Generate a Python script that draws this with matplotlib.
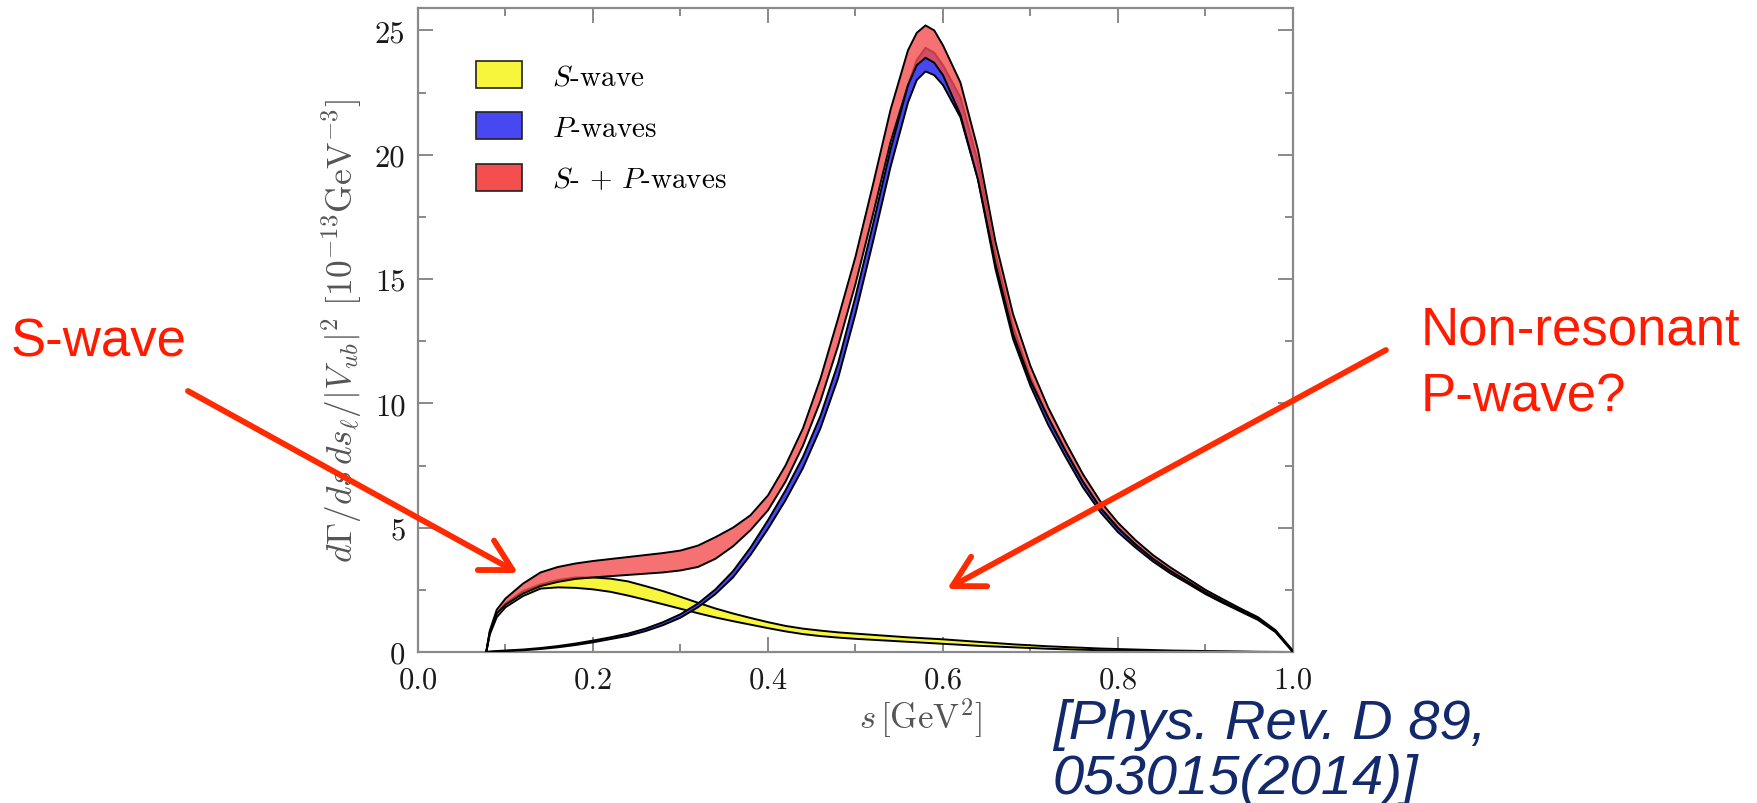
import matplotlib
matplotlib.use('Agg')
import matplotlib.pyplot as plt
from matplotlib.patches import Patch, FancyArrowPatch
from matplotlib.ticker import MultipleLocator

plt.rcParams['mathtext.fontset'] = 'cm'
plt.rcParams['font.family'] = ['cmr10', 'DejaVu Serif']
plt.rcParams['axes.formatter.use_mathtext'] = True
plt.rcParams['axes.unicode_minus'] = False

# s grid [GeV^2] and band edges
s = [0.078, 0.082, 0.09, 0.10, 0.12, 0.14, 0.16, 0.18, 0.20, 0.22, 0.24, 0.26,
     0.28, 0.30, 0.32, 0.34, 0.36, 0.38, 0.40, 0.42, 0.44, 0.46, 0.48, 0.50,
     0.52, 0.54, 0.56, 0.57, 0.58, 0.59, 0.60, 0.62, 0.64, 0.66, 0.68, 0.70,
     0.72, 0.74, 0.76, 0.78, 0.80, 0.82, 0.84, 0.86, 0.88, 0.90, 0.92, 0.94,
     0.96, 0.98, 1.00]

# S-wave (yellow)
s_hi = [0, 0.8, 1.55, 1.95, 2.45, 2.72, 2.9, 3.0, 3.0, 2.95, 2.84, 2.65,
        2.45, 2.22, 1.98, 1.75, 1.55, 1.37, 1.2, 1.05, 0.94, 0.86, 0.79, 0.74,
        0.69, 0.64, 0.59, 0.57, 0.55, 0.53, 0.51, 0.46, 0.41, 0.36, 0.31, 0.27,
        0.23, 0.2, 0.17, 0.14, 0.12, 0.1, 0.08, 0.06, 0.05, 0.04, 0.03, 0.02,
        0.01, 0.005, 0]
s_lo = [0, 0.7, 1.4, 1.8, 2.25, 2.55, 2.6, 2.58, 2.52, 2.42, 2.27, 2.1,
        1.92, 1.74, 1.56, 1.39, 1.24, 1.1, 0.96, 0.83, 0.72, 0.64, 0.58, 0.53,
        0.49, 0.45, 0.41, 0.39, 0.37, 0.35, 0.33, 0.29, 0.25, 0.22, 0.19, 0.16,
        0.13, 0.11, 0.09, 0.07, 0.06, 0.05, 0.04, 0.03, 0.02, 0.015, 0.01, 0.005,
        0, 0, 0]

# P-waves (blue)
p_hi = [0, 0.02, 0.04, 0.06, 0.1, 0.16, 0.24, 0.34, 0.46, 0.59, 0.74, 0.94,
        1.2, 1.52, 1.95, 2.52, 3.25, 4.2, 5.3, 6.5, 7.85, 9.5, 11.6, 14.3,
        17.2, 20.2, 22.8, 23.8, 24.3, 24.1, 23.6, 22.3, 19.7, 16.0, 13.1, 11.05,
        9.45, 8.1, 6.85, 5.8, 4.98, 4.33, 3.76, 3.27, 2.84, 2.41, 2.04, 1.69,
        1.34, 0.84, 0.03]
p_lo = [0, 0, 0.02, 0.04, 0.07, 0.12, 0.19, 0.28, 0.39, 0.52, 0.65, 0.84,
        1.08, 1.38, 1.8, 2.33, 3.0, 3.9, 4.95, 6.1, 7.4, 9.0, 11.0, 13.6,
        16.5, 19.5, 22.1, 23.0, 23.35, 23.2, 22.8, 21.5, 19.0, 15.4, 12.6, 10.7,
        9.15, 7.85, 6.62, 5.62, 4.82, 4.2, 3.64, 3.16, 2.75, 2.33, 1.97, 1.63,
        1.29, 0.8, 0]

# S- + P-waves (red)
sp_hi = [0, 0.85, 1.7, 2.15, 2.75, 3.2, 3.42, 3.56, 3.66, 3.74, 3.82, 3.9,
         3.98, 4.08, 4.28, 4.62, 5.0, 5.5, 6.3, 7.5, 9.0, 11.0, 13.4, 15.9,
         18.8, 21.8, 24.2, 24.9, 25.2, 25.0, 24.4, 22.9, 20.2, 16.5, 13.6, 11.5,
         9.85, 8.45, 7.15, 6.05, 5.2, 4.5, 3.9, 3.4, 2.95, 2.5, 2.12, 1.75,
         1.4, 0.88, 0.05]
sp_lo = [0, 0.75, 1.55, 1.9, 2.35, 2.65, 2.82, 2.94, 3.0, 3.05, 3.1, 3.15,
         3.2, 3.28, 3.42, 3.75, 4.25, 4.9, 5.7, 6.85, 8.3, 10.1, 12.3, 14.8,
         17.6, 20.5, 22.8, 23.6, 23.9, 23.7, 23.2, 21.6, 19.0, 15.6, 12.8, 10.9,
         9.45, 8.1, 6.85, 5.8, 5.0, 4.33, 3.75, 3.26, 2.83, 2.4, 2.03, 1.68,
         1.33, 0.83, 0]

labels = [r'$S$-wave', r'$P$-waves', r'$S$- + $P$-waves']
colors = ['#f7f63c', '#4848f2', '#f44e4e']

xticks = [0.0, 0.2, 0.4, 0.6, 0.8, 1.0]
yticks = [0, 5, 10, 15, 20, 25]

fig = plt.figure(figsize=(17.57, 8.04), dpi=100)
ax = fig.add_axes([0.2379, 0.1878, 0.498, 0.801])


def band(lo, hi, fc, alpha, z):
    ax.fill_between(s, lo, hi, facecolor=fc, edgecolor='none', alpha=alpha, zorder=z)
    ax.plot(s, lo, color='black', lw=1.4, zorder=z + 0.1)
    ax.plot(s, hi, color='black', lw=1.4, zorder=z + 0.1)


band(s_lo, s_hi, colors[0], 1.0, 2)
band(p_lo, p_hi, colors[1], 1.0, 3)
band(sp_lo, sp_hi, colors[2], 0.8, 4)

ax.set_xlim(0, 1.0)
ax.set_ylim(0, 25.9)
ax.set_xticks(xticks)
ax.set_xticklabels(['%.1f' % v for v in xticks])
ax.set_yticks(yticks)
ax.set_yticklabels([str(v) for v in yticks])
ax.xaxis.set_minor_locator(MultipleLocator(0.1))
ax.yaxis.set_minor_locator(MultipleLocator(2.5))
ax.tick_params(which='both', direction='in', top=True, right=True,
               color='#808080', width=1.3, labelcolor='#1a1a1a', labelsize=22)
ax.tick_params(which='major', length=11)
ax.tick_params(which='minor', length=6)
ax.tick_params(axis='x', pad=10)
ax.tick_params(axis='y', pad=9)
for sp in ax.spines.values():
    sp.set_color('#8a8a8a')
    sp.set_linewidth(1.6)

ax.set_xlabel(r'$s\,[\mathrm{GeV}^2]$', fontsize=25, color='#555555')
ax.xaxis.set_label_coords(0.574, -0.068)
ax.set_ylabel(r'$d\Gamma/ds\,ds_\ell/|V_{ub}|^2\ [10^{-13}\mathrm{GeV}^{-3}]$',
              fontsize=25.5, color='#555555')
ax.yaxis.set_label_coords(-0.062, 0.5)

handles = [Patch(facecolor=c, edgecolor='#222222', lw=1.2) for c in colors]
ax.legend(handles, labels, loc='upper left', bbox_to_anchor=(0.066, 0.918),
          frameon=False, fontsize=21, handlelength=1.6, handleheight=1.05,
          handletextpad=1.0, labelspacing=0.75, borderpad=0, borderaxespad=0)

# slide annotations
red = '#ff1a00'
sans = ['Liberation Sans', 'DejaVu Sans']
fig.text(0.0063, 0.557, 'S-wave', color=red, fontsize=38, family=sans, va='baseline')
fig.text(0.8088, 0.571, 'Non-resonant', color=red, fontsize=38, family=sans, va='baseline')
fig.text(0.8088, 0.4876, 'P-wave?', color=red, fontsize=38, family=sans, va='baseline')
fig.text(0.5993, 0.081, '[Phys. Rev. D 89,', color='#12296b', fontsize=40.5,
         family=sans, style='italic', va='baseline')
fig.text(0.5993, 0.012, '053015(2014)]', color='#12296b', fontsize=40.5,
         family=sans, style='italic', va='baseline')

arrow_kw = dict(transform=fig.transFigure, color='#ff2a00', lw=4.2,
                arrowstyle='->,head_length=1.0,head_width=0.55', mutation_scale=22,
                shrinkA=0, shrinkB=0, capstyle='round', joinstyle='round')
fig.add_artist(FancyArrowPatch((0.107, 0.5124), (0.2948, 0.2861), **arrow_kw))
fig.add_artist(FancyArrowPatch((0.7888, 0.5634), (0.539, 0.2662), **arrow_kw))

fig.savefig('out.png', dpi=100)
